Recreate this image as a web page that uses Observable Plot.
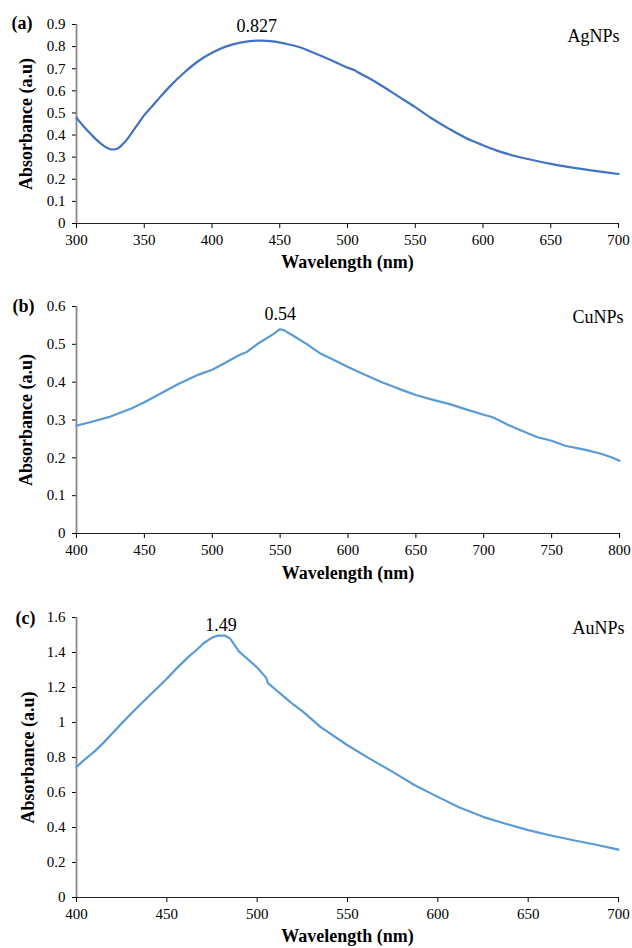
<!DOCTYPE html>
<html>
<head>
<meta charset="utf-8">
<script src="https://cdn.jsdelivr.net/npm/d3@7"></script>
<script src="https://cdn.jsdelivr.net/npm/@observablehq/plot@0.6"></script>
<style>
  html, body { margin: 0; padding: 0; background: #fff; }
  #chart { width: 632px; }
  #chart svg { display: block; font-family: "Liberation Serif", "Times New Roman", Times, serif !important; }
</style>
</head>
<body>
<div id="chart"></div>
<script>
// ---- Data ----
const panelLetters = ["(a)", "(b)", "(c)"];
const sampleNames = ["AgNPs", "CuNPs", "AuNPs"];
const xAxisTitle = "Wavelength (nm)";
const yAxisTitle = "Absorbance (a.u)";

// (a) AgNPs
const wavelengthA = [300,305,310,315,320,325,330,335,340,345,350,355,360,370,380,390,400,410,420,433,445,455,465,475,490,500,505,507,515,525,537,550,562,575,587,600,612,625,650,675,700];
const absorbanceA = [0.478,0.441,0.408,0.377,0.352,0.336,0.338,0.364,0.403,0.447,0.49,0.525,0.56,0.627,0.685,0.735,0.772,0.800,0.817,0.827,0.824,0.812,0.797,0.772,0.733,0.705,0.694,0.686,0.66,0.624,0.577,0.526,0.476,0.428,0.388,0.354,0.326,0.303,0.27,0.245,0.224];

// (b) CuNPs
const wavelengthB = [400,410,425,440,450,462,475,490,500,510,520,525,535,545,550,553,560,570,580,590,600,612,625,637,650,662,675,687,700,706,712,718,725,739,750,760,775,787,795,800];
const absorbanceB = [0.285,0.294,0.309,0.33,0.347,0.37,0.395,0.42,0.433,0.452,0.472,0.479,0.505,0.527,0.540,0.537,0.522,0.50,0.475,0.458,0.44,0.42,0.40,0.383,0.366,0.354,0.342,0.328,0.314,0.308,0.298,0.287,0.276,0.255,0.245,0.232,0.221,0.21,0.2,0.192];

// (c) AuNPs
const wavelengthC = [400,403,410,415,420,425,430,435,440,445,450,455,460,463,466,470,475,478,482,485,490,495,500,505,506,510,515,520,525,535,550,562,575,587,600,612,625,637,650,662,675,687,700];
const absorbanceC = [0.746,0.775,0.835,0.885,0.94,0.995,1.048,1.1,1.15,1.2,1.25,1.305,1.355,1.385,1.41,1.45,1.485,1.496,1.497,1.48,1.405,1.36,1.314,1.255,1.225,1.19,1.146,1.103,1.065,0.975,0.87,0.795,0.718,0.643,0.575,0.514,0.461,0.423,0.385,0.356,0.327,0.303,0.274];

// Peak annotations
const peakWavelengths = [433, 550, 480];
const peakValues = [0.827, 0.54, 1.49];
const peakLabels = ["0.827", "0.54", "1.49"];

// Axis domains and ticks
const xDomains = [[300, 700], [400, 800], [400, 700]];
const yDomains = [[0, 0.9], [0, 0.6], [0, 1.6]];
const xTicksA = [300,350,400,450,500,550,600,650,700];
const xTicksB = [400,450,500,550,600,650,700,750,800];
const xTicksC = [400,450,500,550,600,650,700];
const yTicksA = [0,0.1,0.2,0.3,0.4,0.5,0.6,0.7,0.8,0.9];
const yTicksB = [0,0.1,0.2,0.3,0.4,0.5,0.6];
const yTicksC = [0,0.2,0.4,0.6,0.8,1,1.2,1.4,1.6];

// ---- Layout (styling) ----
const serif = "Liberation Serif, Times New Roman, Times, serif";
const panels = [
  {w: wavelengthA, a: absorbanceA, xt: xTicksA, yt: yTicksA, color: "#4472C4", curve: "catmull-rom",
   height: 290, mt: 24, mb: 67, mr: 14, peakDy: -9, nameDx: 1, nameDy: 17, letterDx: -65, letterDy: 4, xTitleDy: 44, yTitleDx: -50},
  {w: wavelengthB, a: absorbanceB, xt: xTicksB, yt: yTicksB, color: "#5B9BD5", curve: "linear",
   height: 300, mt: 16, mb: 57, mr: 13, peakDy: -9, nameDx: 4, nameDy: 16, letterDx: -64, letterDy: 5, xTitleDy: 45, yTitleDx: -50},
  {w: wavelengthC, a: absorbanceC, xt: xTicksC, yt: yTicksC, color: "#5B9BD5", curve: "linear",
   height: 358, mt: 27, mb: 51, mr: 14, peakDy: -6, nameDx: 6, nameDy: 16, letterDx: -61, letterDy: 6, xTitleDy: 44, yTitleDx: -48}
];

const container = document.getElementById("chart");
panels.forEach((p, i) => {
  const chart = Plot.plot({
    width: 632,
    height: p.height,
    marginLeft: 76,
    marginRight: p.mr,
    marginTop: p.mt,
    marginBottom: p.mb,
    style: {fontFamily: serif, fontSize: "15px", color: "#000", background: "#fff", overflow: "visible"},
    x: {domain: xDomains[i], ticks: p.xt, tickSize: 5, tickPadding: 6, label: null, tickFormat: d3.format("d")},
    y: {domain: yDomains[i], ticks: p.yt, tickSize: 4, tickPadding: 7, label: null, tickFormat: d3.format("~g")},
    marks: [
      Plot.ruleY([0], {stroke: "#222", strokeWidth: 1.2}),
      Plot.ruleX([xDomains[i][0]], {stroke: "#888", strokeWidth: 1.8}),
      Plot.line(p.a, {x: p.w, y: p.a, stroke: p.color, strokeWidth: 2.2, curve: p.curve}),
      Plot.text([peakLabels[i]], {x: [peakWavelengths[i]], y: [peakValues[i]], text: d => d, lineAnchor: "bottom", dy: p.peakDy, fontSize: 18}),
      Plot.text([sampleNames[i]], {frameAnchor: "top-right", textAnchor: "end", lineAnchor: "bottom", dx: p.nameDx, dy: p.nameDy, fontSize: 18}),
      Plot.text([panelLetters[i]], {frameAnchor: "top-left", textAnchor: "start", lineAnchor: "bottom", dx: p.letterDx, dy: p.letterDy, fontSize: 18, fontWeight: "bold"}),
      Plot.text([xAxisTitle], {frameAnchor: "bottom", textAnchor: "middle", lineAnchor: "bottom", dy: p.xTitleDy, fontSize: 18, fontWeight: "bold"}),
      Plot.text([yAxisTitle], {frameAnchor: "left", textAnchor: "middle", lineAnchor: "middle", rotate: -90, dx: p.yTitleDx, fontSize: 18, fontWeight: "bold"})
    ]
  });
  container.appendChild(chart);
});
</script>
</body>
</html>
